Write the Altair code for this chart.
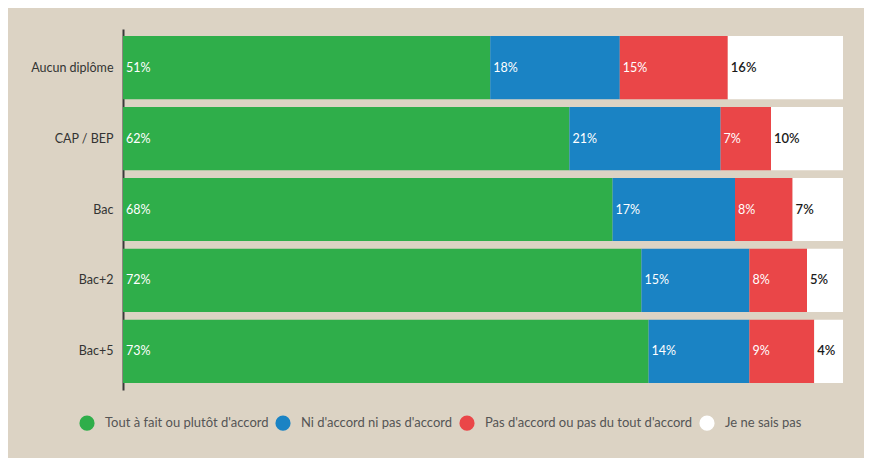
import altair as alt
import pandas as pd

categories = ["Aucun diplôme", "CAP / BEP", "Bac", "Bac+2", "Bac+5"]
responses = ["Tout à fait ou plutôt d'accord", "Ni d'accord ni pas d'accord",
             "Pas d'accord ou pas du tout d'accord", "Je ne sais pas"]
accord = [51, 62, 68, 72, 73]
neutre = [18, 21, 17, 15, 14]
desaccord = [15, 7, 8, 8, 9]
nsp = [16, 10, 7, 5, 4]
colors = ["#2fae4a", "#1a83c4", "#ea4648", "#ffffff"]

series = [accord, neutre, desaccord, nsp]
rows = []
for ri, (resp, vals) in enumerate(zip(responses, series)):
    for cat, v in zip(categories, vals):
        rows.append({"cat": cat, "resp": resp, "order": ri, "value": v,
                     "label": f"{v}%"})
df = pd.DataFrame(rows)

base = alt.Chart(df).transform_stack(
    stack="value", as_=["x0", "x1"], groupby=["cat"],
    sort=[alt.SortField("order", order="ascending")]
)

y = alt.Y("cat:N", sort=categories, title=None,
          scale=alt.Scale(paddingInner=0.11, paddingOuter=0.1),
          axis=alt.Axis(domainColor="#3a3a3a", domainWidth=2, ticks=False,
                        labelPadding=10, labelFontSize=12.5, labelColor="#333333",
                        labelFont="Lato"))

bars = base.mark_bar(cornerRadius=0).encode(
    x=alt.X("x0:Q", scale=alt.Scale(domain=[0, 100], nice=False), axis=None),
    x2="x1:Q",
    y=y,
    color=alt.Color("resp:N", sort=responses,
                    scale=alt.Scale(domain=responses, range=colors),
                    legend=alt.Legend(title=None, orient="none", direction="horizontal",
                                      legendX=-44, legendY=386,
                                      symbolType="circle", symbolSize=230,
                                      symbolStrokeWidth=0, symbolOpacity=1,
                                      labelFontSize=13, labelFont="Lato",
                                      labelColor="#555555", labelOffset=10,
                                      columnPadding=6, labelLimit=300)),
)

text_light = base.mark_text(align="left", baseline="middle", dx=3, fontSize=12.5,
                            font="Lato", color="#ffffff").encode(
    x=alt.X("x0:Q"),
    y=alt.Y("cat:N", sort=categories),
    text="label:N",
).transform_filter(alt.datum.resp != "Je ne sais pas")

text_dark = base.mark_text(align="left", baseline="middle", dx=3, fontSize=13,
                           font="Lato", fontWeight=600, color="#1a1a1a").encode(
    x=alt.X("x0:Q"),
    y=alt.Y("cat:N", sort=categories),
    text="label:N",
).transform_filter(alt.datum.resp == "Je ne sais pas")

chart = (bars + text_light + text_dark).properties(
    width=720, height=361,
    autosize=alt.AutoSizeParams(type="none"),
    padding={"left": 115, "top": 21, "right": 21, "bottom": 68},
    background="#dcd3c4",
).configure_view(stroke=None)

chart.save("out.html", embed_options={"renderer": "svg", "actions": False})
